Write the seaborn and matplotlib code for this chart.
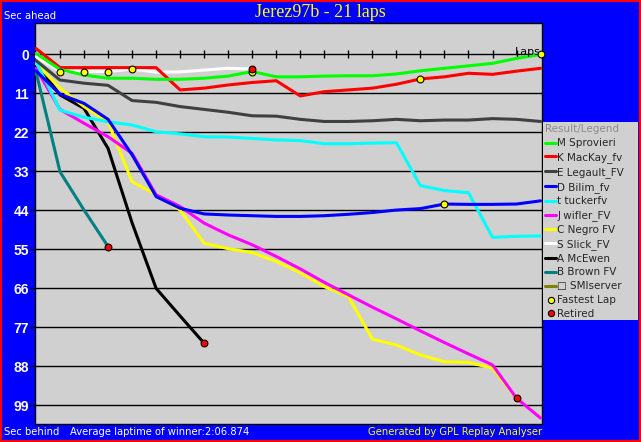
import numpy as np
import pandas as pd
import matplotlib
matplotlib.use("Agg")
import matplotlib.pyplot as plt
import seaborn as sns
from matplotlib.lines import Line2D
from matplotlib.patches import Rectangle
from matplotlib.transforms import blended_transform_factory

# ---------------- data (seconds relative to winner's average lap) ----------------
drivers = ["M Sprovieri", "K MacKay_fv", "E Legault_FV", "D Bilim_fv", "t tuckerfv",
           "J wifler_FV", "C Negro FV", "S Slick_FV", "A McEwen", "B Brown FV",
           "\u25a1 SMIserver"]
colors = ["#00ff00", "#ff0000", "#404040", "#0000ff", "#00ffff",
          "#ff00ff", "#ffff00", "#ffffff", "#000000", "#008080", "#808000"]

sprovieri = [-0.3, 4.2, 5.8, 6.7, 6.7, 7.0, 7.0, 6.7, 6.1, 4.8, 6.3, 6.3, 6.1, 6.0,
             6.0, 5.5, 4.6, 3.9, 3.2, 2.5, 1.1, 0.0]
mackay = [-1.7, 3.7, 3.7, 3.7, 3.7, 3.7, 10.0, 9.5, 8.6, 7.9, 7.4, 11.7, 10.5, 10.0,
          9.5, 8.4, 6.9, 6.3, 5.3, 5.6, 4.7, 3.9]
legault = [1.7, 7.2, 8.1, 8.7, 13.0, 13.5, 14.7, 15.5, 16.3, 17.3, 17.4, 18.3, 18.9,
           18.9, 18.7, 18.3, 18.7, 18.5, 18.5, 18.1, 18.3, 18.9]
bilim = [4.6, 11.2, 13.8, 18.3, 28.3, 40.1, 43.4, 45.0, 45.3, 45.5, 45.7, 45.7, 45.5,
         45.1, 44.6, 43.9, 43.5, 42.2, 42.3, 42.3, 42.2, 41.3]
tucker = [2.0, 15.7, 17.7, 19.0, 19.9, 21.8, 22.4, 23.2, 23.3, 23.7, 24.1, 24.3, 25.2,
          25.2, 25.0, 24.9, 37.0, 38.4, 39.0, 51.6, 51.3, 51.2]
wifler = [3.9, 15.5, 19.4, 23.2, 27.9, 39.6, 42.9, 47.6, 50.9, 53.7, 57.0, 60.5, 64.3,
          67.8, 71.3, 74.6, 78.0, 81.3, 84.5, 87.6, 97.0, 102.6]
negro = [2.5, 9.5, 14.7, 19.0, 35.9, 39.5, 43.9, 53.3, 54.8, 55.9, 58.4, 61.6, 65.5,
         68.3, 80.3, 82.0, 84.8, 86.7, 86.9, 88.5, 97.0]
slick = [0.6, 4.8, 4.8, 4.8, 4.1, 5.0, 4.9, 4.4, 3.9, 4.1]
mcewen = [2.5, 11.4, 15.2, 26.5, 47.5, 66.0, 73.8, 81.5]
brown = [4.8, 33.1, 43.9, 54.2]
smiserver = []

series = dict(zip(drivers, [sprovieri, mackay, legault, bilim, tucker, wifler, negro,
                            slick, mcewen, brown, smiserver]))

fastest_lap = [("S Slick_FV", 1), ("S Slick_FV", 2), ("S Slick_FV", 3), ("S Slick_FV", 4),
               ("M Sprovieri", 9), ("K MacKay_fv", 16), ("D Bilim_fv", 17),
               ("M Sprovieri", 21)]
retired = [("B Brown FV", 3), ("A McEwen", 7), ("S Slick_FV", 9), ("C Negro FV", 20)]

yticks = list(range(0, 100, 11))
xtick_laps = list(range(1, 21))

title = "Jerez97b - 21 laps"
avg_text = "Average laptime of winner:2:06.874"

# ---------------- build tables ----------------
rows = []
for name in drivers:
    for lap, v in enumerate(series[name]):
        rows.append((name, lap, v))
df = pd.DataFrame(rows, columns=["driver", "lap", "gap"])

fl_df = pd.DataFrame([(d, l, series[d][l]) for d, l in fastest_lap],
                     columns=["driver", "lap", "gap"])
rt_df = pd.DataFrame([(d, l, series[d][l]) for d, l in retired],
                     columns=["driver", "lap", "gap"])

# ---------------- figure ----------------
sns.set_theme(style="white")
plt.rcParams['font.family'] = ['DejaVu Sans']

W, H = 641, 442
fig = plt.figure(figsize=(W / 100, H / 100), dpi=100, facecolor="#0000ff")
top_px, bot_px, left_px, right_px = 22.5, 423.5, 35, 542
ax = fig.add_axes([left_px / W, 1 - bot_px / H, (right_px - left_px) / W,
                   (bot_px - top_px) / H])
ax.set_facecolor("#d0d0d0")

y_top, y_bot = -9.03, 104.14
ax.set_xlim(-0.04, 21.06)
ax.set_ylim(y_bot, y_top)

ax.set_axisbelow(True)
ax.set_yticks(yticks)
ax.set_yticklabels([str(t) for t in yticks], color="white", fontweight="bold",
                   fontsize=10, fontfamily="Liberation Sans")
ax.tick_params(axis="y", left=True, length=3.5, width=1, color="black", pad=1)
ax.set_xticks([])
ax.grid(axis="y", color="black", linewidth=1)
for s in ax.spines.values():
    s.set_color("black")
    s.set_linewidth(1)

# lap axis on the zero line
zero_frac = (y_bot - 0) / (y_bot - y_top)
sec = ax.secondary_xaxis(zero_frac)
sec.set_xticks(xtick_laps)
sec.set_xticklabels([])
sec.tick_params(axis="x", direction="inout", length=6, width=1, color="black")
sec.spines["bottom"].set_color("black")
sec.spines["bottom"].set_linewidth(1)
for k in ["top", "left", "right"]:
    if k in sec.spines:
        sec.spines[k].set_visible(False)

# lines (drawn so earlier legend entries sit on top)
for name, color in reversed(list(zip(drivers, colors))):
    sub = df[df.driver == name]
    if len(sub) == 0:
        continue
    sns.lineplot(data=sub, x="lap", y="gap", color=color, linewidth=2.2, ax=ax,
                 legend=False, estimator=None, sort=False, zorder=3)

sns.scatterplot(data=fl_df, x="lap", y="gap", color="#ffff00", edgecolor="black",
                s=24, linewidth=0.8, ax=ax, zorder=5, legend=False, clip_on=False)
sns.scatterplot(data=rt_df, x="lap", y="gap", color="#ff0000", edgecolor="black",
                s=24, linewidth=0.8, ax=ax, zorder=6, legend=False, clip_on=False)
ax.set_xlabel("")
ax.set_ylabel("")

ax.text(0.998, 0.6, "Laps", transform=blended_transform_factory(ax.transAxes, ax.transData),
        ha="right", va="bottom", fontsize=8, color="black")

# texts
fig.text(320.5 / W, 1 - 12.5 / H, title, ha="center", va="center", color="#ffff00",
         fontsize=13, fontfamily="Liberation Serif")
fig.text(4 / W, 1 - 15.7 / H, "Sec ahead", ha="left", va="center", color="white", fontsize=7.2)
fig.text(4 / W, 1 - 431.7 / H, "Sec behind", ha="left", va="center", color="white", fontsize=7.2)
fig.text(70 / W, 1 - 431.7 / H, avg_text, ha="left", va="center", color="white", fontsize=7.2)
fig.text(542 / W, 1 - 431.7 / H, "Generated by GPL Replay Analyser", ha="right",
         va="center", color="#ffff00", fontsize=7.2)

# legend panel
lg_l, lg_t, lg_r, lg_b = 543.3, 122.3, 638.3, 320
fig.patches.append(Rectangle((lg_l / W, 1 - lg_b / H), (lg_r - lg_l) / W, (lg_b - lg_t) / H,
                             transform=fig.transFigure, facecolor="#d0d0d0",
                             edgecolor="none", zorder=0))
handles = [Line2D([], [], color=c, lw=2.2) for c in colors]
labels = list(drivers)
handles.append(Line2D([], [], ls="", marker="o", mfc="#ffff00", mec="black", ms=4.5, mew=0.8))
labels.append("Fastest Lap")
handles.append(Line2D([], [], ls="", marker="o", mfc="#ff0000", mec="black", ms=4.5, mew=0.8))
labels.append("Retired")
leg = fig.legend(handles, labels, loc="upper left", bbox_to_anchor=(lg_l / W, 1 - lg_t / H),
                 frameon=False, title="Result/Legend", alignment="left", fontsize=7.5,
                 title_fontsize=7.5, handlelength=1.0, handletextpad=0.15,
                 labelspacing=0.37, borderpad=0.2, borderaxespad=0)
leg.get_title().set_color("#8c8c8c")

# red outer frame
fig.patches.append(Rectangle((0, 0), 1, 1, transform=fig.transFigure, fill=False,
                             edgecolor="#ff0000", linewidth=3, zorder=10))

fig.savefig("out.png", dpi=100, facecolor=fig.get_facecolor())
